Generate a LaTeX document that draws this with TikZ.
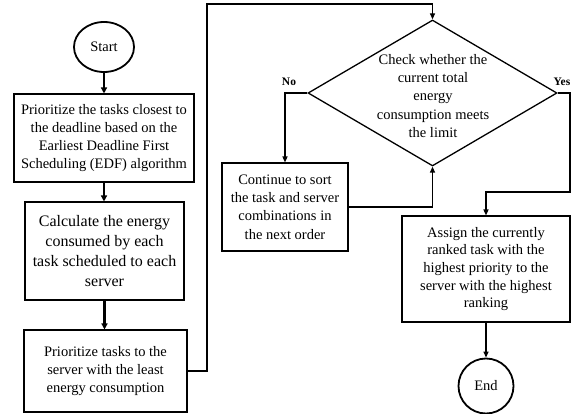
\documentclass[tikz,border=0pt]{standalone}
\usepackage{fontspec}
\setmainfont{Liberation Serif}
\usetikzlibrary{arrows.meta,shapes.geometric}
\begin{document}
\begin{tikzpicture}[x=1pt,y=-1pt,
  every node/.style={inner sep=0pt, align=center},
  txt/.style={font=\fontsize{14.5}{18.2}\selectfont},
  procbox/.style={draw, line width=1.1pt, txt},
  term/.style={draw, line width=1.8pt, txt},
  conn/.style={line width=1.3pt, -{Triangle[length=6pt,width=5pt]}},
  thickconn/.style={line width=2.2pt, -{Triangle[length=6pt,width=6pt]}},
  lbl/.style={font=\fontsize{11.5}{12}\bfseries\selectfont}]
\useasboundingbox (0,0) rectangle (573,414);

\node[term, ellipse, minimum width=60, minimum height=50] (start) at (104,47) {Start};

\node[procbox, minimum width=180, minimum height=88] (b1) at (104,138)
  {Prioritize the tasks closest to\\the deadline based on the\\Earliest Deadline First\\Scheduling (EDF) algorithm};

\node[procbox, minimum width=159, minimum height=98, font=\fontsize{16}{20}\selectfont] (b2) at (104.5,251)
  {Calculate the energy\\consumed by each\\task scheduled to each\\server};

\node[procbox, minimum width=163, minimum height=82] (b3) at (105.5,371)
  {Prioritize tasks to the\\server with the least\\energy consumption};

\node[draw, diamond, line width=1.3pt, minimum width=249, minimum height=146] (d) at (432.5,93) {};
\node[txt] (dtext) at (433,96)
  {Check whether the\\current total\\energy\\consumption meets\\the limit};

\node[procbox, minimum width=126, minimum height=88] (b4) at (285,207)
  {Continue to sort\\the task and server\\combinations in\\the next order};

\node[procbox, minimum width=168, minimum height=106, font=\fontsize{14.5}{17.6}\selectfont] (b5) at (486,269)
  {Assign the currently\\ranked task with the\\highest priority to the\\server with the highest\\ranking};

\node[term, circle, minimum size=55] (finish) at (486,386) {End};

\coordinate (c1) at (207,4);
\coordinate (c2) at (570,192);

\draw[thickconn] (start) -- (b1);
\draw[thickconn] (b1.south) -- (b1.south |- b2.north);
\draw[thickconn] (b2.south) -- (b2.south |- b3.north);
\draw[conn] (b3.east) -| (c1) -| (d.north);
\draw[conn] (d.west) -| (b4.north);
\draw[conn] (b4.east) -| (d.south);
\draw[conn] (d.east) -| (c2) -| (b5.north);
\draw[conn] (b5) -- (finish);

\node[lbl] (nolbl) at (289,82) {No};
\node[lbl] (yeslbl) at (562,82) {Yes};
\end{tikzpicture}
\end{document}
